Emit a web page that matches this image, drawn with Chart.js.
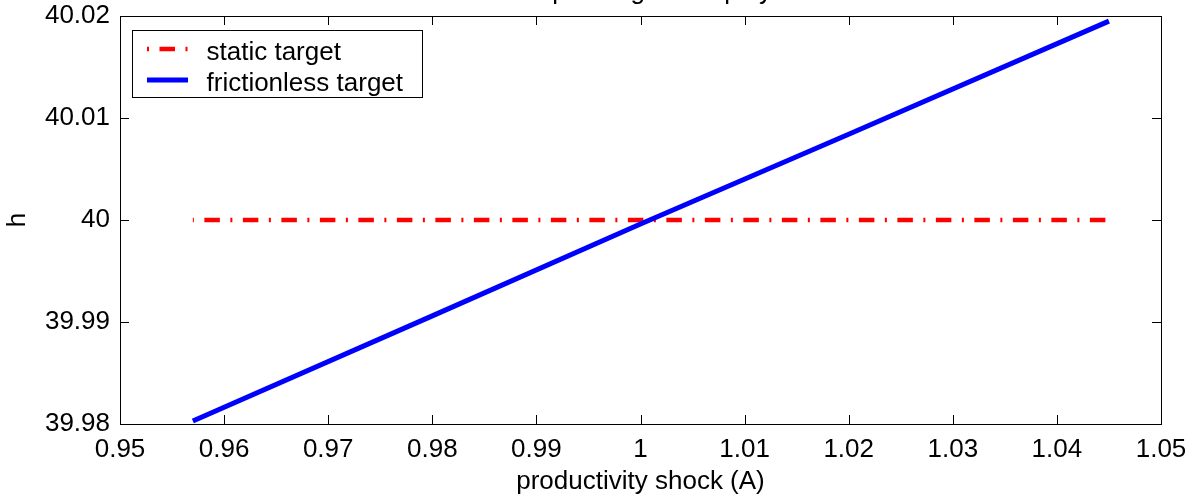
<!DOCTYPE html>
<html>
<head>
<meta charset="utf-8">
<script src="https://cdn.jsdelivr.net/npm/chart.js@4/dist/chart.umd.min.js"></script>
<style>
  html, body { margin: 0; padding: 0; background: #fff; }
  #wrap { width: 1194px; height: 500px; position: relative; }
</style>
</head>
<body>
<div id="wrap"><canvas id="grafica"></canvas></div>
<script>
// datos
const chartTitle = 'hours depending on employment';
const seriesNames = ['static target', 'frictionless target'];
const staticX = [0.957, 1.045];
const staticY = [40, 40];
const frictionX = [0.957, 0.98, 1.0, 1.02, 1.045];
const frictionY = [39.9803, 39.9906, 39.9996, 40.0084, 40.0195];
const xTickValues = [0.95, 0.96, 0.97, 0.98, 0.99, 1.0, 1.01, 1.02, 1.03, 1.04, 1.05];
const xTickLabels = ['0.95', '0.96', '0.97', '0.98', '0.99', '1', '1.01', '1.02', '1.03', '1.04', '1.05'];
const yTickValues = [39.98, 39.99, 40, 40.01, 40.02];
const yTickLabels = ['39.98', '39.99', '40', '40.01', '40.02'];

const FONT = '"Liberation Sans", Arial, sans-serif';
const redDash = [15.5, 10.5, 2, 10.5];

function toPoints(xs, ys) {
  return xs.map((x, i) => ({ x: x, y: ys[i] }));
}

// marco, ticks hacia dentro, leyenda y titulo
const marcoPlugin = {
  id: 'marco',
  afterDatasetsDraw(chart) {
    const ctx = chart.ctx;
    const a = chart.chartArea;
    const xs = chart.scales.x, ys = chart.scales.y;
    const tl = 9;
    ctx.save();
    ctx.strokeStyle = '#000';
    ctx.lineWidth = 1;
    ctx.beginPath();
    xTickValues.forEach(v => {
      const px = Math.round(xs.getPixelForValue(v)) + 0.5;
      ctx.moveTo(px, a.bottom); ctx.lineTo(px, a.bottom - tl);
      ctx.moveTo(px, a.top); ctx.lineTo(px, a.top + tl);
    });
    yTickValues.forEach(v => {
      const py = Math.round(ys.getPixelForValue(v)) + 0.5;
      ctx.moveTo(a.left, py); ctx.lineTo(a.left + tl, py);
      ctx.moveTo(a.right, py); ctx.lineTo(a.right - tl, py);
    });
    ctx.stroke();
    ctx.strokeRect(Math.round(a.left) + 0.5, Math.round(a.top) + 0.5,
      Math.round(a.right - a.left), Math.round(a.bottom - a.top));
    ctx.restore();
  },
  afterDraw(chart) {
    const ctx = chart.ctx;
    const a = chart.chartArea;
    ctx.save();
    // titulo (cortado arriba)
    ctx.fillStyle = '#000';
    ctx.font = '26px ' + FONT;
    ctx.textAlign = 'center';
    ctx.textBaseline = 'alphabetic';
    ctx.fillText(chartTitle, (a.left + a.right) / 2, -1.5);

    // leyenda
    const bx = Math.round(a.left) + 12.5, by = Math.round(a.top) + 14.5;
    ctx.fillStyle = '#fff';
    ctx.fillRect(bx, by, 290, 67);
    ctx.strokeStyle = '#000';
    ctx.lineWidth = 1;
    ctx.strokeRect(bx, by, 290, 67);
    const ds = chart.data.datasets;
    const rows = [by + 18.5, by + 49.5];
    ds.forEach((d, i) => {
      ctx.save();
      ctx.strokeStyle = d.borderColor;
      ctx.lineWidth = d.borderWidth;
      ctx.lineCap = 'butt';
      if (d.borderDash) { ctx.setLineDash(d.borderDash); ctx.lineDashOffset = 26; }
      ctx.beginPath();
      ctx.moveTo(bx + 14.5, rows[i]);
      ctx.lineTo(bx + 55.5, rows[i]);
      ctx.stroke();
      ctx.restore();
      ctx.fillStyle = '#000';
      ctx.textAlign = 'left';
      ctx.textBaseline = 'alphabetic';
      ctx.font = '26px ' + FONT;
      ctx.fillText(d.label, bx + 74, rows[i] + 11);
    });
    ctx.restore();
  }
};

const ctx = document.getElementById('grafica').getContext('2d');
const myChart = new Chart(ctx, {
  type: 'scatter',
  data: {
    datasets: [
      {
        label: seriesNames[0],
        data: toPoints(staticX, staticY),
        showLine: true,
        borderColor: '#ff0000',
        backgroundColor: '#ff0000',
        borderWidth: 4.5,
        borderDash: redDash,
        borderDashOffset: 27,
        borderCapStyle: 'butt',
        pointRadius: 0,
        order: 1
      },
      {
        label: seriesNames[1],
        data: toPoints(frictionX, frictionY),
        showLine: true,
        borderColor: '#0000ff',
        backgroundColor: '#0000ff',
        borderWidth: 5,
        pointRadius: 0,
        order: 0
      }
    ]
  },
  options: {
    responsive: true,
    maintainAspectRatio: false,
    animation: false,
    layout: { padding: { top: 16, right: 33, left: 0, bottom: 0 } },
    plugins: {
      legend: { display: false },
      tooltip: { enabled: false },
      title: { display: false }
    },
    scales: {
      x: {
        type: 'linear',
        min: 0.95,
        max: 1.05,
        grid: { display: false, drawTicks: false },
        border: { display: false },
        afterBuildTicks: s => { s.ticks = xTickValues.map(v => ({ value: v })); },
        afterFit: s => { s.height = 76; s.paddingLeft = 0; s.paddingRight = 0; },
        ticks: {
          color: '#000',
          padding: 10,
          maxRotation: 0,
          autoSkip: false,
          font: { family: FONT, size: 26 },
          callback: (v, i) => xTickLabels[i]
        },
        title: {
          display: true,
          text: 'productivity shock (A)',
          color: '#000',
          padding: { top: 4, bottom: 3 },
          font: { family: FONT, size: 26 }
        }
      },
      y: {
        min: 39.98,
        max: 40.02,
        grid: { display: false, drawTicks: false },
        border: { display: false },
        afterBuildTicks: s => { s.ticks = yTickValues.map(v => ({ value: v })); },
        afterFit: s => { s.width = 120; s.paddingTop = 0; s.paddingBottom = 0; },
        ticks: {
          color: '#000',
          padding: 10,
          autoSkip: false,
          font: { family: FONT, size: 26 },
          callback: (v, i) => yTickLabels[i]
        },
        title: {
          display: true,
          text: 'h',
          color: '#000',
          padding: { top: 2, bottom: 0 },
          font: { family: FONT, size: 26 }
        }
      }
    }
  },
  plugins: [marcoPlugin]
});
</script>
</body>
</html>
